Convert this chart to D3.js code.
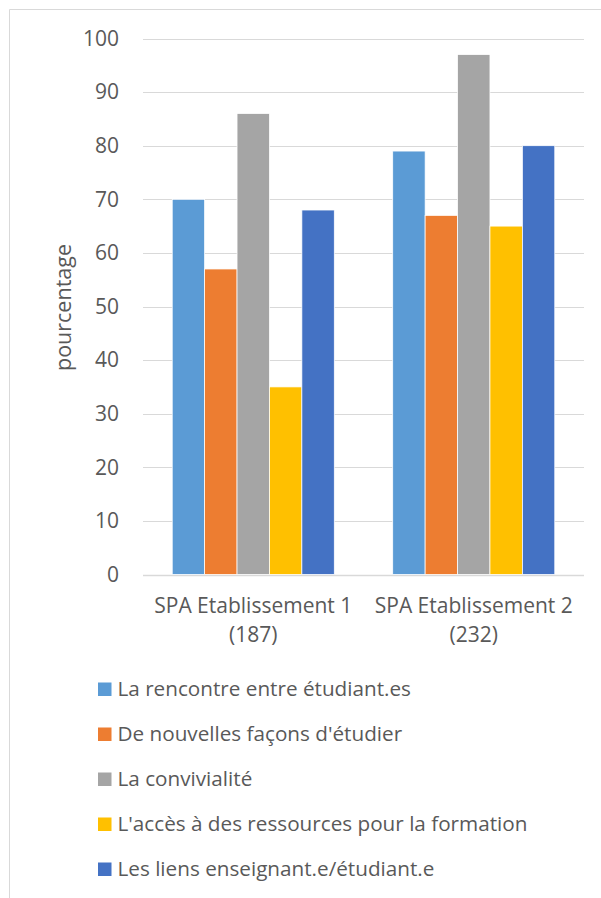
<!DOCTYPE html>
<html>
<head>
<meta charset="utf-8">
<script src="https://cdn.jsdelivr.net/npm/d3@7"></script>
<style>
  body { margin: 0; background: #fff; }
  svg text { font-family: "Open Sans", sans-serif; fill: #595959; }
</style>
</head>
<body>
<div id="chart"></div>
<script>
var width = 601,
    height = 898;

// data
var categories = ["SPA Etablissement 1|(187)", "SPA Etablissement 2|(232)"];
var seriesNames = ["La rencontre entre étudiant.es",
                   "De nouvelles façons d'étudier",
                   "La convivialité",
                   "L'accès à des ressources pour la formation",
                   "Les liens enseignant.e/étudiant.e"];
var seriesValues = [
    [70, 79],
    [57, 67],
    [86, 97],
    [35, 65],
    [68, 80]
];
var yTicks = [0, 10, 20, 30, 40, 50, 60, 70, 80, 90, 100];
var colorrange = ["#5B9BD5", "#ED7D31", "#A5A5A5", "#FFC000", "#4472C4"];

var plot = {left: 143, right: 584, top: 38.5, bottom: 574.5};

var svg = d3.select("#chart")
    .append("svg")
    .attr("width", width)
    .attr("height", height)

// frame (only top and left show in the crop)
svg.append("path")
    .attr("d", "M9.5," + height + "V9.5H" + width)
    .style("fill", "none")
    .style("stroke", "#d9d9d9")

var x0 = d3.scaleBand()
    .domain(categories)
    .range([plot.left, plot.right])
    .paddingInner(0.265)
    .paddingOuter(0.1325)

var x1 = d3.scaleBand()
    .domain(d3.range(seriesNames.length))
    .range([0, x0.bandwidth()])

var y = d3.scaleLinear()
    .domain([0, 100])
    .range([plot.bottom, plot.top])

// gridlines
svg.append("g")
    .selectAll("line")
    .data(yTicks)
    .enter().append("line")
    .attr("x1", plot.left)
    .attr("x2", plot.right)
    .attr("y1", function (d) { return Math.round(y(d)) + 0.5; })
    .attr("y2", function (d) { return Math.round(y(d)) + 0.5; })
    .style("stroke", "#d9d9d9")
    .style("stroke-width", function (d) { return d === 0 ? 1.5 : 1; })

// y tick labels
svg.append("g")
    .selectAll("text")
    .data(yTicks)
    .enter().append("text")
    .attr("x", 119)
    .attr("y", function (d) { return y(d); })
    .attr("dy", "0.35em")
    .style("text-anchor", "end")
    .style("font-size", "21px")
    .text(function (d) { return d; })

// bars
var groups = svg.append("g")
    .selectAll("g")
    .data(categories)
    .enter().append("g")
    .attr("transform", function (d) { return "translate(" + x0(d) + ",0)"; })

groups.selectAll("rect")
    .data(function (d, ci) {
        return seriesValues.map(function (vals, si) { return {s: si, v: vals[ci]}; });
    })
    .enter().append("rect")
    .attr("x", function (d) { return x1(d.s); })
    .attr("y", function (d) { return y(d.v); })
    .attr("width", x1.bandwidth())
    .attr("height", function (d) { return y(0) - y(d.v); })
    .style("fill", function (d) { return colorrange[d.s]; })
    .style("stroke", "#fff")
    .style("stroke-width", 0.75)

// category labels
var catLabels = svg.append("g")
    .selectAll("text")
    .data(categories)
    .enter().append("text")
    .attr("x", function (d) { return x0(d) + x0.bandwidth() / 2; })
    .attr("y", 612.5)
    .style("text-anchor", "middle")
    .style("font-size", "21px")

catLabels.selectAll("tspan")
    .data(function (d) { return d.split("|"); })
    .enter().append("tspan")
    .attr("x", function () { return d3.select(this.parentNode).attr("x"); })
    .attr("dy", function (d, i) { return i === 0 ? 0 : 29; })
    .text(function (d) { return d; })

// axis title
svg.append("text")
    .attr("transform", "translate(71," + 307.5 + ") rotate(-90)")
    .style("text-anchor", "middle")
    .style("font-size", "21.5px")
    .text("pourcentage")

// legend
var legend = svg.append("g")
    .selectAll("g")
    .data(seriesNames)
    .enter().append("g")
    .attr("transform", function (d, i) { return "translate(98," + (689 + i * 45) + ")"; })

legend.append("rect")
    .attr("x", 0)
    .attr("y", -6.5)
    .attr("width", 13.5)
    .attr("height", 13.5)
    .style("fill", function (d, i) { return colorrange[i]; })

legend.append("text")
    .attr("x", 19.5)
    .attr("y", 0)
    .attr("dy", "0.35em")
    .style("font-size", "20.7px")
    .text(function (d) { return d; })
</script>
</body>
</html>
